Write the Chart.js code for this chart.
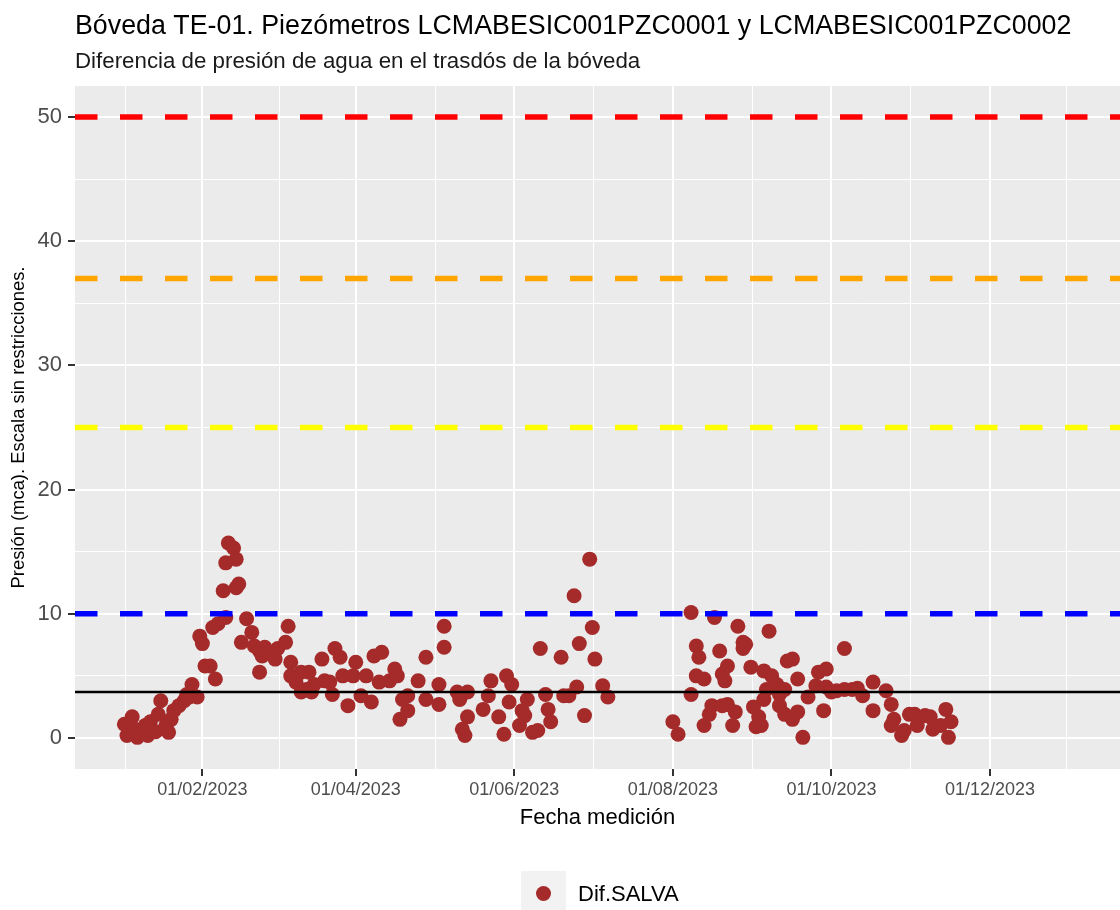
<!DOCTYPE html>
<html>
<head>
<meta charset="utf-8">
<script src="https://cdn.jsdelivr.net/npm/chart.js@4.4.0/dist/chart.umd.min.js"></script>
<style>html,body{margin:0;padding:0;background:#fff;overflow:hidden;}canvas{display:block;}</style>
</head>
<body>
<canvas id="c" width="1120" height="910"></canvas>
<script>
// ---------------- DATA ----------------
const titleText = 'Bóveda TE-01. Piezómetros LCMABESIC001PZC0001 y LCMABESIC001PZC0002';
const subtitleText = 'Diferencia de presión de agua en el trasdós de la bóveda';
const xAxisTitle = 'Fecha medición';
const yAxisTitle = 'Presión (mca). Escala sin restricciones.';
const seriesName = 'Dif.SALVA';

const dates = [
 '2023-01-02','2023-01-03','2023-01-05','2023-01-06','2023-01-07','2023-01-10','2023-01-11','2023-01-12','2023-01-14','2023-01-15',
 '2023-01-16','2023-01-18','2023-01-19','2023-01-20','2023-01-21','2023-01-23','2023-01-25','2023-01-26','2023-01-27','2023-01-28',
 '2023-01-30','2023-01-31','2023-02-01','2023-02-02','2023-02-04','2023-02-05','2023-02-06','2023-02-07','2023-02-09','2023-02-10',
 '2023-02-10','2023-02-11','2023-02-13','2023-02-14','2023-02-14','2023-02-15','2023-02-16','2023-02-18','2023-02-20','2023-02-21',
 '2023-02-23','2023-02-23','2023-02-24','2023-02-25','2023-02-27','2023-03-01','2023-03-02','2023-03-05','2023-03-06','2023-03-07',
 '2023-03-07','2023-03-09','2023-03-11','2023-03-11','2023-03-13','2023-03-14','2023-03-15','2023-03-16','2023-03-19','2023-03-20',
 '2023-03-22','2023-03-23','2023-03-24','2023-03-26','2023-03-27','2023-03-29','2023-03-31','2023-04-01','2023-04-03','2023-04-05',
 '2023-04-07','2023-04-08','2023-04-10','2023-04-11','2023-04-14','2023-04-16','2023-04-17','2023-04-18','2023-04-19','2023-04-21',
 '2023-04-21','2023-04-25','2023-04-28','2023-04-28','2023-05-03','2023-05-03','2023-05-05','2023-05-05','2023-05-10','2023-05-11',
 '2023-05-12','2023-05-13','2023-05-14','2023-05-14','2023-05-20','2023-05-22','2023-05-23','2023-05-26','2023-05-28','2023-05-29',
 '2023-05-30','2023-05-31','2023-06-03','2023-06-04','2023-06-05','2023-06-06','2023-06-08','2023-06-10','2023-06-11','2023-06-13',
 '2023-06-14','2023-06-15','2023-06-19','2023-06-20','2023-06-22','2023-06-24','2023-06-25','2023-06-26','2023-06-28','2023-06-30',
 '2023-07-01','2023-07-02','2023-07-05','2023-07-07','2023-08-01','2023-08-03','2023-08-08','2023-08-08','2023-08-10','2023-08-10',
 '2023-08-11','2023-08-13','2023-08-13','2023-08-15','2023-08-16','2023-08-17','2023-08-19','2023-08-20','2023-08-20','2023-08-21',
 '2023-08-22','2023-08-22','2023-08-24','2023-08-25','2023-08-26','2023-08-28','2023-08-28','2023-08-29','2023-08-31','2023-09-01',
 '2023-09-02','2023-09-03','2023-09-04','2023-09-05','2023-09-05','2023-09-06','2023-09-07','2023-09-08','2023-09-10','2023-09-11',
 '2023-09-11','2023-09-13','2023-09-13','2023-09-14','2023-09-16','2023-09-16','2023-09-18','2023-09-18','2023-09-20','2023-09-22',
 '2023-09-25','2023-09-26','2023-09-28','2023-09-29','2023-09-29','2023-10-01','2023-10-03','2023-10-06','2023-10-06','2023-10-09',
 '2023-10-11','2023-10-13','2023-10-17','2023-10-17','2023-10-22','2023-10-24','2023-10-25','2023-10-24','2023-10-28','2023-10-29',
 '2023-10-31','2023-11-02','2023-11-03','2023-11-06','2023-11-08','2023-11-09','2023-11-12','2023-11-14','2023-11-16','2023-11-15'
];
const values = [
 1.1,0.2,1.7,0.7,0.05,1.0,0.2,1.3,0.5,1.9,
 3.0,1.0,0.45,1.5,2.2,2.6,3.0,3.5,3.3,4.3,
 3.3,8.2,7.6,5.8,5.8,8.9,4.75,9.2,11.85,9.7,
 14.1,15.7,15.3,14.4,12.1,12.4,7.7,9.6,8.5,7.4,
 5.3,7.0,6.6,7.3,6.9,6.35,7.2,7.7,9.0,6.1,
 5.0,4.5,3.7,5.3,3.9,5.3,3.7,4.3,6.35,4.6,
 4.5,3.5,7.2,6.5,5.0,2.6,5.0,6.1,3.4,5.0,
 2.9,6.6,4.5,6.9,4.6,5.55,5.0,1.5,3.1,2.2,
 3.4,4.6,3.1,6.5,4.3,2.7,7.3,9.0,3.7,3.1,
 0.7,0.2,1.7,3.7,2.3,3.4,4.6,1.7,0.3,5.0,
 2.9,4.3,1.0,2.2,1.8,3.1,0.45,0.6,7.2,3.5,
 2.3,1.3,6.5,3.4,3.4,11.45,4.1,7.6,1.8,14.4,
 8.9,6.35,4.2,3.3,1.3,0.3,3.5,10.1,5.0,7.4,
 6.5,4.75,1.0,1.9,2.6,9.7,7.0,5.15,2.6,4.6,
 5.8,2.7,1.0,2.1,9.0,7.7,7.2,7.55,5.7,2.5,
 0.9,1.7,1.0,5.4,3.1,3.9,8.6,5.0,4.3,2.6,
 3.5,3.9,1.9,6.2,6.35,1.5,4.75,2.1,0.05,3.3,
 4.2,5.3,2.2,5.55,4.1,3.7,3.8,7.2,3.9,3.9,
 4.0,3.4,2.2,4.5,3.8,2.7,1.5,1.0,0.2,0.6,
 1.9,1.9,1.0,1.8,1.7,0.7,1.0,2.3,1.3,0.05
];

const xTickLabels = ['01/02/2023','01/04/2023','01/06/2023','01/08/2023','01/10/2023','01/12/2023'];
const yTickValues = [0,10,20,30,40,50];
const thresholdValues = [50,37,25,10];
const thresholdColors = ['#FF0000','#FFA500','#FFFF00','#0000FF'];
const meanValue = 3.7;
const xLimits = ['2022-12-14','2024-01-20'];
const yLimits = [-2.5,52.5];

// ---------------- HELPERS ----------------
const DAY = 86400000;
const T0 = Date.UTC(2023,0,1);
function isoToT(s){const p=s.split('-').map(Number);return (Date.UTC(p[0],p[1]-1,p[2])-T0)/DAY;}
function dmyToT(s){const p=s.split('/').map(Number);return (Date.UTC(p[2],p[1]-1,p[0])-T0)/DAY;}
function minorBreaks(major,lo,hi){
  const bd = major[1]-major[0];
  const ext = major.slice();
  if (lo < ext[0]) ext.unshift(ext[0]-bd);
  if (hi > ext[ext.length-1]) ext.push(ext[ext.length-1]+bd);
  const out=[];
  for (let i=0;i<ext.length-1;i++){const m=(ext[i]+ext[i+1])/2; if(m>=lo&&m<=hi) out.push(m);}
  return out;
}
const xMin = isoToT(xLimits[0]), xMax = isoToT(xLimits[1]);
const majorX = xTickLabels.map(dmyToT);
const minorX = minorBreaks(majorX,xMin,xMax);
const minorY = minorBreaks(yTickValues,yLimits[0],yLimits[1]);
const isMajX = v => majorX.some(m=>Math.abs(m-v)<1e-6);
const isMajY = v => yTickValues.some(m=>Math.abs(m-v)<1e-6);

const FONT = '"Liberation Sans", Arial, Helvetica, sans-serif';
Chart.defaults.font.family = FONT;

const datasets = [];
datasets.push({
  type:'line', label:'media', data:[{x:xMin,y:meanValue},{x:xMax,y:meanValue}],
  borderColor:'#000000', borderWidth:2.6, pointRadius:0, order:0
});
thresholdValues.forEach((v,i)=>{
  datasets.push({
    type:'line', label:'umbral'+v, data:[{x:xMin,y:v},{x:xMax,y:v}],
    borderColor:thresholdColors[i], borderWidth:5.5, borderDash:[22.5,22.5],
    borderCapStyle:'butt', pointRadius:0, order:1
  });
});
datasets.push({
  type:'scatter', label:seriesName,
  data: dates.map((d,i)=>({x:isoToT(d), y:values[i]})),
  backgroundColor:'#A52A2A', borderWidth:0, pointRadius:7.5, pointHoverRadius:7.5, order:10
});

const decor = {
  id:'decor',
  beforeDraw(chart){
    const {ctx, chartArea:a} = chart;
    ctx.save();
    ctx.fillStyle='#FFFFFF'; ctx.fillRect(0,0,chart.width,chart.height);
    ctx.fillStyle='#EBEBEB'; ctx.fillRect(a.left,a.top,a.right-a.left,a.bottom-a.top);
    ctx.restore();
  },
  afterDraw(chart){
    const {ctx, chartArea:a} = chart;
    ctx.save();
    ctx.fillStyle='#000000';
    ctx.textBaseline='alphabetic';
    ctx.textAlign='left';
    ctx.font='26.8px '+FONT;
    ctx.fillText(titleText, a.left, 34);
    ctx.font='22.3px '+FONT;
    ctx.fillStyle='#1A1A1A';
    ctx.fillText(subtitleText, a.left, 67.5);
    // x axis title
    ctx.fillStyle='#000000';
    ctx.textAlign='center';
    ctx.font='22px '+FONT;
    ctx.fillText(xAxisTitle, (a.left+a.right)/2, 823.5);
    // y axis title
    ctx.save();
    ctx.translate(24,(a.top+a.bottom)/2);
    ctx.rotate(-Math.PI/2);
    ctx.font='18.4px '+FONT;
    ctx.textAlign='center';
    ctx.fillText(yAxisTitle,0,0);
    ctx.restore();
    // legend
    ctx.fillStyle='#F2F2F2';
    ctx.fillRect(521,871,45,45);
    ctx.fillStyle='#A52A2A';
    ctx.beginPath(); ctx.arc(543.5,893.5,7.5,0,Math.PI*2); ctx.fill();
    ctx.fillStyle='#000000';
    ctx.textAlign='left';
    ctx.font='22px '+FONT;
    ctx.fillText(seriesName,578,901);
    ctx.restore();
  }
};

new Chart(document.getElementById('c'),{
  type:'scatter',
  data:{datasets},
  plugins:[decor],
  options:{
    responsive:false, animation:false, devicePixelRatio:1,
    layout:{autoPadding:false, padding:{top:86,left:0,right:0,bottom:0}},
    plugins:{legend:{display:false},tooltip:{enabled:false},title:{display:false}},
    scales:{
      x:{
        type:'linear', min:xMin, max:xMax,
        afterBuildTicks:s=>{s.ticks=[...majorX,...minorX].sort((p,q)=>p-q).map(v=>({value:v}));},
        afterFit:s=>{s.height=141;},
        border:{display:false},
        grid:{
          color:'#FFFFFF',
          lineWidth:c=>(c.tick && isMajX(c.tick.value))?2:1,
          drawTicks:true, tickLength:7, tickWidth:2,
          tickColor:c=>(c.tick && isMajX(c.tick.value))?'#333333':'rgba(0,0,0,0)'
        },
        ticks:{
          autoSkip:false, maxRotation:0, minRotation:0, padding:3,
          color:'#4D4D4D', font:{size:18, family:FONT},
          callback:v=>{const i=majorX.findIndex(m=>Math.abs(m-v)<1e-6);return i>=0?xTickLabels[i]:'';}
        }
      },
      y:{
        type:'linear', min:yLimits[0], max:yLimits[1],
        afterBuildTicks:s=>{s.ticks=[...yTickValues,...minorY].sort((p,q)=>p-q).map(v=>({value:v}));},
        afterFit:s=>{s.width=75;},
        border:{display:false},
        grid:{
          color:'#FFFFFF',
          lineWidth:c=>(c.tick && isMajY(c.tick.value))?2:1,
          drawTicks:true, tickLength:7, tickWidth:2,
          tickColor:c=>(c.tick && isMajY(c.tick.value))?'#333333':'rgba(0,0,0,0)'
        },
        ticks:{
          autoSkip:false, padding:6,
          color:'#4D4D4D', font:{size:22, family:FONT},
          callback:v=>isMajY(v)?String(v):''
        }
      }
    }
  }
});
</script>
</body>
</html>
